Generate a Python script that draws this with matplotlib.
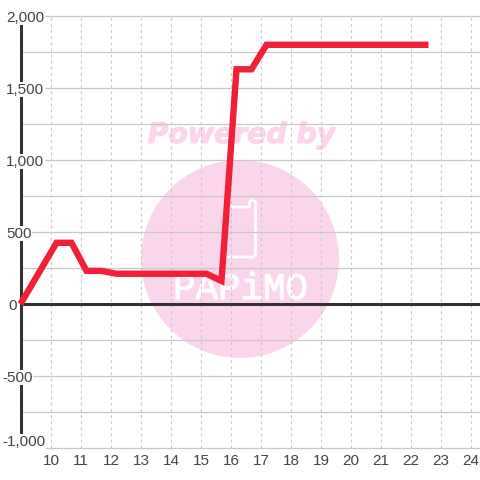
#!/usr/bin/env python3
from matplotlib.patches import Ellipse
from matplotlib import patheffects
import matplotlib
matplotlib.use("Agg")
import matplotlib.pyplot as plt

HOURS = [9, 10.2, 10.7, 11.2, 11.7, 12.2, 15.2, 15.7, 16.2, 16.7, 17.2, 22.6]
VALUES = [0, 425, 425, 230, 230, 210, 210, 160, 1630, 1630, 1800, 1800]

X_TICKS = list(range(10, 25))
Y_GRID = list(range(-1000, 2001, 250))
Y_LABELS = [2000, 1500, 1000, 500, 0, -500, -1000]

PX_X = 1 / 30.0
PX_Y = 1 / 0.144
TEXT_COLOR = "#444444"
AXIS_COLOR = "#333333"
GRID_COLOR = "#c8c8c8"
PINK = "#fbd5ec"


def main():
    plt.rcParams["font.family"] = ["Liberation Sans", "DejaVu Sans"]

    fig = plt.figure(figsize=(4.8, 4.8), dpi=100, facecolor="white")
    ax = fig.add_axes([0, 0, 1, 1])
    ax.set_xlim(10 - 50.5 * PX_X, 10 + 429.5 * PX_X)
    ax.set_ylim(0 - 176 * PX_Y, 0 + 304 * PX_Y)
    ax.set_axis_off()

    # watermark sits under the grid
    ax.add_patch(Ellipse((10 + 189.5 * PX_X, 45 * PX_Y), 198 * PX_X, 198 * PX_Y,
                         facecolor=PINK, edgecolor="none", zorder=1))
    ax.text(10 + 191 * PX_X, 169 * PX_Y, "Powered by", family="DejaVu Sans",
            weight="bold", style="oblique", fontsize=20.4, color=PINK,
            ha="center", va="center", zorder=1,
            path_effects=[patheffects.withStroke(linewidth=0.8, foreground=PINK)])
    ax.text(10 + 190 * PX_X, 15 * PX_Y, "PAPiMO", family="Liberation Mono",
            fontsize=27, color="white", ha="center", va="center", zorder=1.5,
            path_effects=[patheffects.withStroke(linewidth=0.7, foreground="white")])
    ax.plot([10 + s * PX_X for s in (176, 199, 199, 202, 205, 205, 203, 176)],
            [s * PX_Y for s in (97, 97, 102, 104, 102, 49, 47, 47)],
            color="white", lw=2, zorder=1.5)

    # grid
    left = HOURS[0]
    right = ax.get_xlim()[1]
    ax.hlines(Y_GRID, left, right, color=GRID_COLOR, lw=0.9, zorder=2)
    ax.vlines(X_TICKS, Y_GRID[0], Y_GRID[-1], color=GRID_COLOR, lw=0.8,
              linestyles=(0, (2.5, 3)), zorder=2)

    # axes
    ax.hlines(0, left, right, color=AXIS_COLOR, lw=2.2, zorder=3)
    ax.vlines(left, Y_GRID[0], Y_GRID[-1], color=AXIS_COLOR, lw=2.2, zorder=3)

    # y labels have a white box that cuts the axis line
    for value in Y_LABELS:
        px = 2 if value < 0 else (8 if value == 0 else 6)
        y = value + (6 * PX_Y if value == -1000 else -1.5 * PX_Y)
        ax.text(10 + (px - 50.5) * PX_X, y, f"{value:,}", fontsize=11,
                color=TEXT_COLOR, ha="left", va="center", zorder=4,
                bbox=dict(facecolor="white", edgecolor="none", pad=0.5))

    for hour in X_TICKS:
        ax.text(hour + 0.02, -1000 - 13 * PX_Y, str(hour), fontsize=11,
                color=TEXT_COLOR, ha="center", va="center", zorder=4)

    ax.plot(HOURS, VALUES, color="#f21f38", lw=4.6, solid_joinstyle="miter",
            solid_capstyle="butt", zorder=5)

    fig.savefig("out.png", dpi=100)


if __name__ == "__main__":
    main()
